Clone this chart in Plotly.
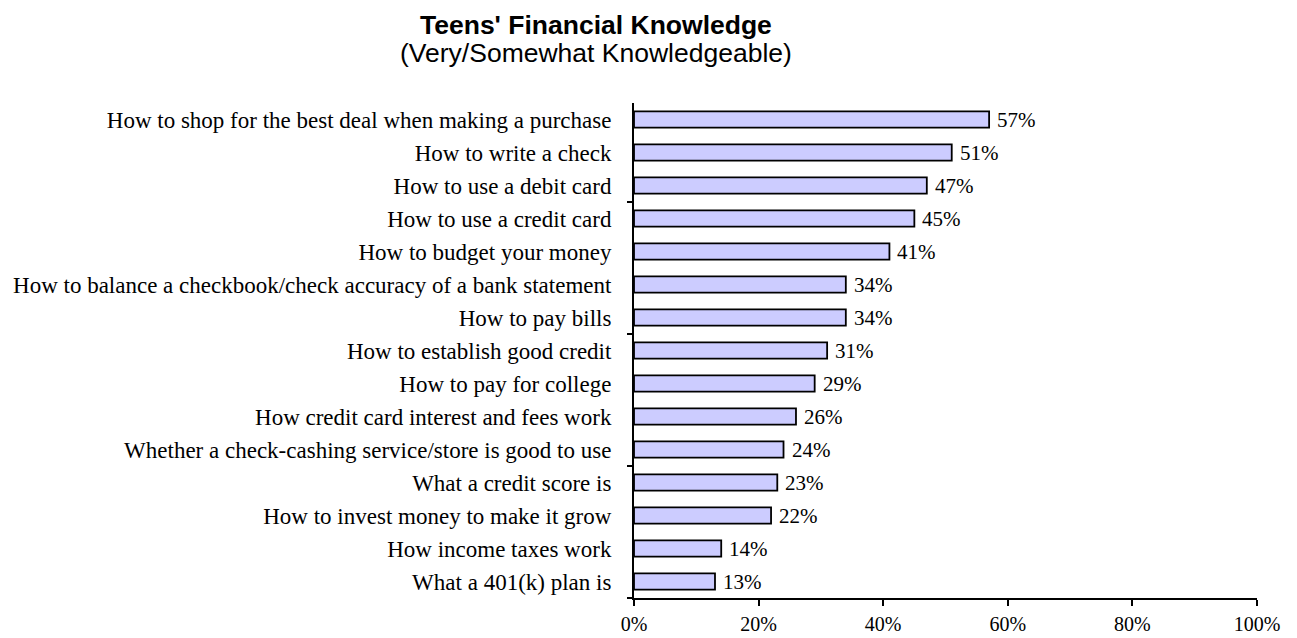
import plotly.graph_objects as go

# Survey items, listed top to bottom
items = [
    "How to shop for the best deal when making a purchase",
    "How to write a check",
    "How to use a debit card",
    "How to use a credit card",
    "How to budget your money",
    "How to balance a checkbook/check accuracy of a bank statement",
    "How to pay bills",
    "How to establish good credit",
    "How to pay for college",
    "How credit card interest and fees work",
    "Whether a check-cashing service/store is good to use",
    "What a credit score is",
    "How to invest money to make it grow",
    "How income taxes work",
    "What a 401(k) plan is",
]
pct_knowledgeable = [57, 51, 47, 45, 41, 34, 34, 31, 29, 26, 24, 23, 22, 14, 13]

x_ticks = [0, 20, 40, 60, 80, 100]
x_tick_labels = ["0%", "20%", "40%", "60%", "80%", "100%"]

serif = "Liberation Serif, Times New Roman, serif"
sans = "Liberation Sans, Arial, sans-serif"

# Plot bottom-up so the first item sits at the top
items_plot = items[::-1]
vals_plot = pct_knowledgeable[::-1]

L, R, T, B = 634, 40, 103, 40
W, H = 1297, 638

fig = go.Figure()
fig.add_trace(go.Bar(
    x=vals_plot,
    y=items_plot,
    orientation="h",
    width=0.49,
    marker=dict(color="#CCCCFF", line=dict(color="black", width=1.8)),
    hoverinfo="skip",
))

# Invisible helper trace on a linear overlay axis that carries the minor y tick marks
fig.add_trace(go.Scatter(x=[None], y=[None], yaxis="y2", showlegend=False, hoverinfo="skip"))

# Value labels just past the end of each bar
value_labels = [
    dict(
        x=v, y=name, xref="x", yref="y",
        text=f"{v}%", showarrow=False,
        xanchor="left", yanchor="middle", xshift=6,
        font=dict(family=serif, size=21, color="black"),
    )
    for v, name in zip(vals_plot, items_plot)
]

# Two-line heading, positioned in pixels then converted to paper coordinates
plot_w = W - L - R
plot_h = H - T - B
def px_to_paper(px, py):
    return (px - L) / plot_w, (H - B - py) / plot_h

tx, ty = px_to_paper(596, 25)
sx, sy = px_to_paper(596, 53)
heading = [
    dict(text="<b>Teens' Financial Knowledge</b>", x=tx, y=ty, xref="paper", yref="paper",
         xanchor="center", yanchor="middle", showarrow=False,
         font=dict(family=sans, size=26.5, color="black")),
    dict(text="(Very/Somewhat Knowledgeable)", x=sx, y=sy, xref="paper", yref="paper",
         xanchor="center", yanchor="middle", showarrow=False,
         font=dict(family=sans, size=26.5, color="black")),
]

fig.update_layout(
    width=W,
    height=H,
    margin=dict(l=L, r=R, t=T, b=B),
    paper_bgcolor="white",
    plot_bgcolor="white",
    showlegend=False,
    xaxis=dict(
        range=[0, 100],
        tickvals=x_ticks,
        ticktext=x_tick_labels,
        ticks="outside",
        ticklen=6,
        tickwidth=2,
        tickcolor="black",
        showline=True,
        linecolor="black",
        linewidth=2,
        showgrid=False,
        zeroline=False,
        automargin=False,
        ticklabelstandoff=1,
        tickfont=dict(family=serif, size=20, color="black"),
    ),
    yaxis=dict(
        type="category",
        categoryorder="array",
        categoryarray=items_plot,
        range=[-0.5, len(items) - 0.5],
        ticks="",
        showline=True,
        linecolor="black",
        linewidth=2,
        showgrid=False,
        zeroline=False,
        automargin=False,
        ticklabelstandoff=16,
        tickfont=dict(family=serif, size=23, color="black"),
    ),
    yaxis2=dict(
        overlaying="y",
        side="left",
        range=[-0.5, len(items) - 0.5],
        tickvals=[-0.5, 3.5, 7.5, 11.5],
        ticks="outside",
        ticklen=6,
        tickwidth=2,
        tickcolor="black",
        showticklabels=False,
        showgrid=False,
        zeroline=False,
        showline=False,
        automargin=False,
    ),
    annotations=value_labels + heading,
)

fig.write_html("out.html")
